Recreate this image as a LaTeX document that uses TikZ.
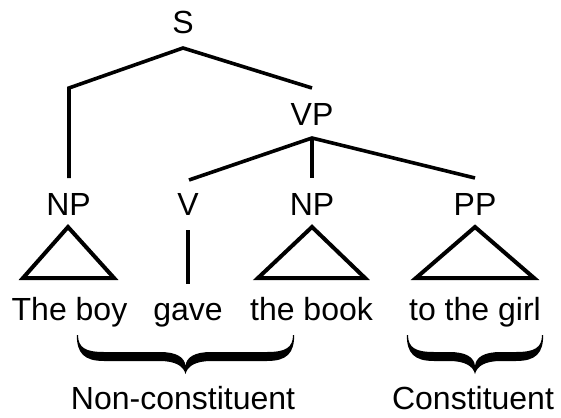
\documentclass[tikz,border=0pt]{standalone}
\usepackage{fontspec}
\setmainfont{Liberation Sans}

% Calligraphic curly brace, opening upward, from x=#1 to x=#2 (top at y=#3)
\newcommand\calbrace[3]{%
  \pgfmathsetmacro\bxm{(#1+#2)/2}%
  \fill
    ({#1-1.2},#3)
      .. controls ({#1-1.2},353) and ({#1+6},361) .. ({#1+26},361)
      -- ({\bxm-26},361)
      .. controls ({\bxm-10},361) and ({\bxm-2},366) .. (\bxm,374)
      .. controls ({\bxm+2},366) and ({\bxm+10},361) .. ({\bxm+26},361)
      -- ({#2-26},361)
      .. controls ({#2-6},361) and ({#2+1.2},353) .. ({#2+1.2},#3)
      -- ({#2},#3)
      .. controls ({#2},348) and ({#2-8},352) .. ({#2-26},352)
      -- ({\bxm+26},352)
      .. controls ({\bxm+9},352) and ({\bxm+1},357) .. (\bxm,366)
      .. controls ({\bxm-1},357) and ({\bxm-9},352) .. ({\bxm-26},352)
      -- ({#1+26},352)
      .. controls ({#1+8},352) and ({#1},348) .. ({#1},#3)
      -- cycle;}

\begin{document}
\begin{tikzpicture}[x=1pt,y=-1pt,
  lbl/.style={font=\fontsize{32}{36}\selectfont, anchor=base, inner sep=0pt},
  edge/.style={line width=3.6pt, line join=miter, line cap=butt},
  tri/.style={line width=4pt, line join=miter}]
\useasboundingbox[fill=white] (0,0) rectangle (561,417);

% category labels
\node[lbl] (S)   at (183,34)  {S};
\node[lbl] (VP)  at (312,125) {VP};
\node[lbl] (NPa) at (68.5,215) {NP};
\node[lbl] (V)   at (188,215) {V};
\node[lbl] (NPb) at (312,215) {NP};
\node[lbl] (PP)  at (475,215) {PP};

% branch points
\coordinate (sJ)    at (183,48);
\coordinate (npC)   at (69,88);
\coordinate (npE)   at (69,178);
\coordinate (vpE)   at (312,88);
\coordinate (vpJ)   at (312,138);
\coordinate (vE)    at (189,180);
\coordinate (npbE)  at (312,178);
\coordinate (ppE)   at (475,178);

\draw[edge] (npE) -- (npC) -- (sJ) -- (vpE);
\draw[edge] (vE) -- (vpJ) -- (ppE);
\draw[edge] (vpJ) -- (npbE);

% words
\node[lbl] (w1) at (69.5,320) {The boy};
\node[lbl] (w2) at (188,320)  {gave};
\node[lbl] (w3) at (311.5,320) {the book};
\node[lbl] (w4) at (475,320)  {to the girl};

% triangles and the verb stem
\draw[tri] (68,227) -- (114,278) -- (23,278) -- cycle;
\draw[tri] (312,227) -- (365,278) -- (258,278) -- cycle;
\draw[tri] (475,227) -- (534,278) -- (416,278) -- cycle;
\coordinate (vT) at (188,230);
\coordinate (vB) at (188,284);
\draw[edge] (vT) -- (vB);

% braces and their labels
\calbrace{78}{293}{335}
\calbrace{408}{542}{335}
\node[lbl] (nc) at (183,409) {Non-constituent};
\node[lbl] (c)  at (473,409) {Constituent};
\end{tikzpicture}
\end{document}
